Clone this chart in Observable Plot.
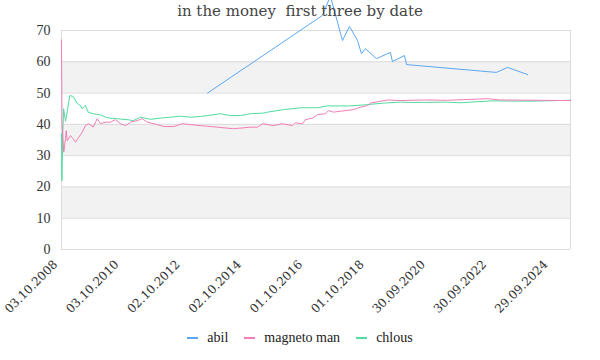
<!DOCTYPE html>
<html>
<head>
<meta charset="utf-8">
<script src="https://cdn.jsdelivr.net/npm/d3@7"></script>
<script src="https://cdn.jsdelivr.net/npm/@observablehq/plot@0.6"></script>
<style>
  html, body { margin: 0; padding: 0; background: #fff; }
  #wrap { position: relative; width: 600px; height: 360px; overflow: hidden; }
  #title { position: absolute; top: 2px; left: 0; width: 600px; text-align: center;
           font-family: "DejaVu Serif", serif; font-size: 15px; color: #444; white-space: pre; z-index: 2; }
  #legend { position: absolute; top: 330px; left: 0; width: 600px; display: flex; justify-content: center;
            font-family: "Liberation Serif", serif; font-size: 14px; color: #222; }
  .item { display: flex; align-items: center; margin: 0 8px; }
  .sw { width: 11px; height: 2px; margin-right: 9px; }
  #chart svg { overflow: visible; }
  .xax text { font-family: "DejaVu Serif", serif; }
</style>
</head>
<body>
<div id="wrap">
  <div id="title"></div>
  <div id="chart"></div>
  <div id="legend"></div>
</div>
<script>
const titleText = "in the money  first three by date";
const seriesNames = ["abil", "magneto man", "chlous"];
const seriesColors = ["#5aa8f2", "#f27db7", "#4fdc9e"];

const xStart = "2008-10-03";
const xEnd = "2025-05-12";
const tickDates = ["2008-10-03","2010-10-03","2012-10-02","2014-10-02","2016-10-01","2018-10-01","2020-09-30","2022-09-30","2024-09-29"];
const yTicks = [0, 10, 20, 30, 40, 50, 60, 70];
const bandStarts = [10, 30, 50];

const abilDates = ["2013-07-09","2017-04-08","2017-07-12","2017-12-03","2018-02-25","2018-05-31","2018-07-17","2018-09-02","2019-01-12","2019-06-27","2019-07-21","2019-12-12","2020-01-05","2022-12-12","2023-04-23","2023-12-18"];
const abilValues = [50, 74.8, 81, 66.8, 71.3, 66.8, 62.6, 64.2, 61.0, 63.0, 60.1, 62.0, 59.1, 56.6, 58.2, 55.9];

const magnetoDates = ["2008-10-03","2008-10-09","2008-10-30","2008-11-20","2008-11-28","2008-12-10","2009-01-18","2009-02-19","2009-03-19","2009-04-27","2009-06-06","2009-07-15","2009-08-23","2009-10-16","2009-12-02","2010-01-11","2010-03-11","2010-05-10","2010-07-08","2010-09-06","2010-11-05","2011-01-03","2011-03-24","2011-05-23","2011-07-21","2011-10-08","2012-02-04","2012-06-02","2012-09-10","2012-12-18","2013-04-16","2013-11-05","2014-05-15","2014-12-03","2015-02-25","2015-04-25","2015-09-02","2015-12-19","2016-04-16","2016-05-21","2016-08-13","2016-09-18","2016-12-10","2017-02-08","2017-05-15","2017-06-20","2017-08-18","2017-11-10","2018-04-12","2018-07-05","2018-09-26","2018-11-01","2019-02-28","2019-06-04","2019-10-25","2020-08-17","2021-05-07","2022-08-27","2023-01-29","2025-05-12"];
const magnetoValues = [67, 40, 31.1, 35.5, 38, 34.8, 36.4, 35.4, 34.3, 35.9, 37.5, 39.6, 40.2, 39.1, 41.8, 40.2, 40.7, 40.7, 41.5, 40.2, 39.6, 40.7, 41.2, 41.8, 40.7, 40.2, 39.3, 39.3, 40.2, 39.9, 39.6, 39.1, 38.6, 39.1, 39.1, 40.2, 39.6, 40.2, 39.6, 40.5, 40.2, 41.5, 42, 43.1, 43.4, 44.4, 43.9, 44.2, 44.7, 45.5, 46, 46.8, 47.4, 47.8, 47.6, 47.8, 47.7, 48.2, 47.8, 47.6];

const chlousDates = ["2008-10-03","2008-10-08","2008-10-16","2008-10-28","2008-11-20","2008-12-10","2009-01-10","2009-02-19","2009-04-08","2009-05-17","2009-06-06","2009-07-15","2009-08-20","2009-10-18","2010-01-11","2010-04-01","2010-07-28","2010-11-24","2011-02-08","2011-05-01","2011-08-29","2011-12-26","2012-04-24","2012-08-21","2012-12-18","2013-04-16","2013-12-11","2014-04-09","2014-08-06","2014-12-03","2015-05-08","2015-06-24","2015-12-31","2016-07-21","2017-02-08","2017-06-08","2018-03-08","2018-09-26","2019-04-05","2019-10-25","2020-02-22","2021-04-14","2021-10-09","2022-02-06","2022-10-02","2024-01-22","2025-05-12"];
const chlousValues = [37, 22, 35, 45, 41, 44, 49.2, 48.9, 46.7, 46, 45, 46, 43.8, 43.4, 43, 42.1, 41.8, 41.5, 41.2, 42.3, 41.6, 42, 42.3, 42.6, 42.3, 42.5, 43.4, 42.8, 42.8, 43.4, 43.6, 43.9, 44.7, 45.3, 45.3, 45.9, 45.9, 46.3, 46.8, 47.1, 47, 47.1, 46.9, 47.1, 47.5, 47.4, 47.7];

const parse = d3.utcParse("%Y-%m-%d");
const toRows = (dates, values) => dates.map((d, i) => ({date: parse(d), value: values[i]}));
const abil = toRows(abilDates, abilValues);
const magneto = toRows(magnetoDates, magnetoValues);
const chlous = toRows(chlousDates, chlousValues);
const x0 = parse(xStart), x1 = parse(xEnd);
const fmt = d3.utcFormat("%d.%m.%Y");

const chart = Plot.plot({
  width: 600,
  height: 330,
  marginTop: 30,
  marginLeft: 61,
  marginRight: 30,
  marginBottom: 81,
  style: "font-family: 'Liberation Serif', serif; font-size: 13px; color: #333; background: transparent;",
  x: {type: "utc", domain: [x0, x1]},
  y: {domain: [0, 70]},
  marks: [
    Plot.rect(bandStarts, {x1: () => x0, x2: () => x1, y1: d => d, y2: d => d + 10, fill: "#f2f2f2"}),
    Plot.ruleY(yTicks, {stroke: "#dcdcdc", strokeWidth: 1}),
    Plot.ruleX([x0, x1], {stroke: "#dcdcdc", strokeWidth: 1}),
    Plot.axisY({ticks: yTicks, tickSize: 0, tickPadding: 11, label: null, fontSize: 14}),
    Plot.axisX({ticks: tickDates.map(parse), tickFormat: fmt, tickRotate: -45, tickSize: 0, tickPadding: 6, label: null, dx: -6, dy: 7, fontSize: 12, className: "xax"}),
    Plot.lineY(chlous, {x: "date", y: "value", stroke: seriesColors[2], strokeWidth: 1}),
    Plot.lineY(magneto, {x: "date", y: "value", stroke: seriesColors[1], strokeWidth: 1}),
    Plot.lineY(abil, {x: "date", y: "value", stroke: seriesColors[0], strokeWidth: 1})
  ]
});
document.getElementById("chart").appendChild(chart);
document.getElementById("title").textContent = titleText;
const legend = document.getElementById("legend");
seriesNames.forEach((n, i) => {
  const it = document.createElement("div"); it.className = "item";
  const sw = document.createElement("span"); sw.className = "sw"; sw.style.background = seriesColors[i];
  const lb = document.createElement("span"); lb.textContent = n;
  it.appendChild(sw); it.appendChild(lb); legend.appendChild(it);
});
</script>
</body>
</html>
